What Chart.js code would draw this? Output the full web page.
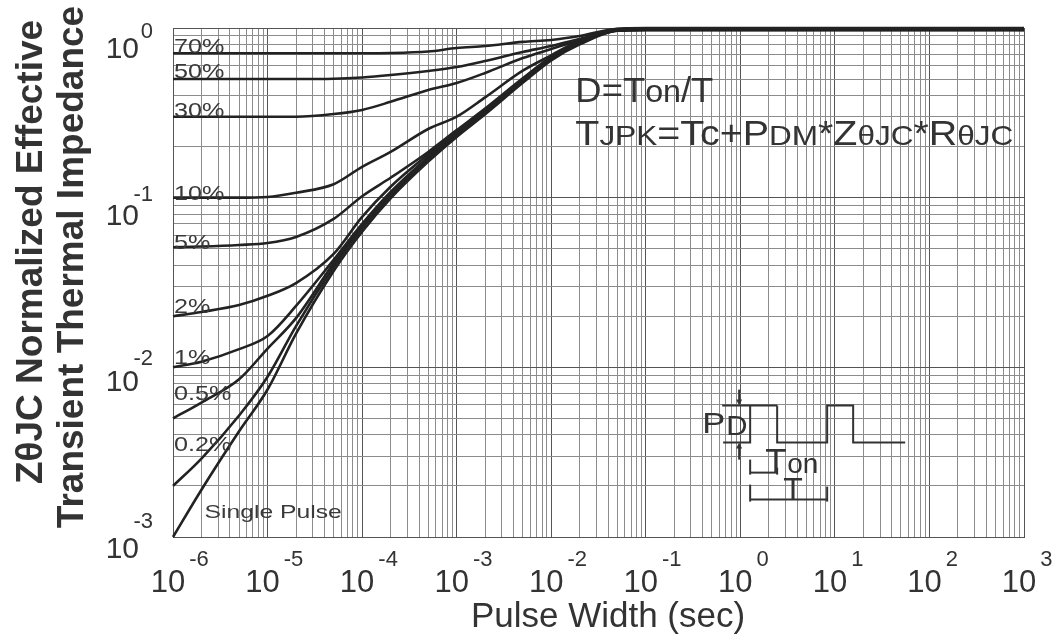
<!DOCTYPE html>
<html>
<head>
<meta charset="utf-8">
<script src="https://cdn.jsdelivr.net/npm/chart.js@4.4.1/dist/chart.umd.min.js"></script>
<style>
  body { margin: 0; background: #fff; }
  canvas { display: block; }
</style>
</head>
<body>
<canvas id="zthChart" width="1059" height="635"></canvas>
<script>
// Pulse widths (sec) shared by every curve
const pulseWidths = [1e-6, 2e-6, 5e-6, 1e-5, 2e-5, 5e-5, 1e-4, 2e-4, 5e-4, 1e-3, 2e-3, 5e-3, 1e-2, 2e-2, 5e-2, 1e-1, 1e3];

// Normalized ZthJC, one array per duty cycle
const duty70 = [0.71, 0.71, 0.71, 0.71, 0.71, 0.71, 0.71, 0.712, 0.727, 0.762, 0.783, 0.828, 0.85, 0.897, 0.99, 0.998, 0.998];
const duty50 = [0.50, 0.50, 0.50, 0.50, 0.50, 0.502, 0.511, 0.528, 0.558, 0.589, 0.639, 0.722, 0.783, 0.861, 0.985, 0.995, 0.995];
const duty30 = [0.30, 0.30, 0.30, 0.30, 0.30, 0.311, 0.329, 0.367, 0.431, 0.474, 0.543, 0.665, 0.752, 0.85, 0.98, 0.992, 0.992];
const duty10 = [0.10, 0.10, 0.10, 0.101, 0.107, 0.12, 0.152, 0.186, 0.254, 0.30, 0.39, 0.56, 0.69, 0.845, 0.978, 0.99, 0.99];
const duty5 = [0.051, 0.0515, 0.0526, 0.054, 0.0587, 0.075, 0.102, 0.131, 0.186, 0.25, 0.335, 0.505, 0.675, 0.83, 0.975, 0.987, 0.987];
const duty2 = [0.020, 0.0212, 0.0233, 0.0264, 0.0314, 0.0466, 0.077, 0.116, 0.18, 0.245, 0.33, 0.50, 0.67, 0.825, 0.972, 0.984, 0.984];
const duty1 = [0.010, 0.0108, 0.0128, 0.0153, 0.023, 0.043, 0.07, 0.108, 0.174, 0.24, 0.325, 0.495, 0.665, 0.82, 0.97, 0.981, 0.981];
const duty05 = [0.005, 0.0062, 0.0085, 0.0129, 0.0195, 0.041, 0.068, 0.105, 0.171, 0.237, 0.32, 0.49, 0.66, 0.815, 0.968, 0.978, 0.978];
const duty02 = [0.002, 0.0029, 0.0052, 0.0088, 0.0175, 0.039, 0.066, 0.103, 0.168, 0.234, 0.318, 0.485, 0.655, 0.81, 0.966, 0.975, 0.975];
const singlePulse = [0.001, 0.0019, 0.0042, 0.0074, 0.0158, 0.037, 0.063, 0.099, 0.163, 0.228, 0.31, 0.475, 0.645, 0.80, 0.963, 0.972, 0.972];

const seriesNames = ['70%', '50%', '30%', '10%', '5%', '2%', '1%', '0.5%', '0.2%', 'Single Pulse'];
const seriesValues = [duty70, duty50, duty30, duty10, duty5, duty2, duty1, duty05, duty02, singlePulse];

// Axis decades (exponents) and minor multipliers
const xDecades = [-6, -5, -4, -3, -2, -1, 0, 1, 2, 3];
const yDecades = [-3, -2, -1, 0];
const minorSteps = [1, 2, 3, 4, 5, 6, 7, 8, 9];

// Where each curve label sits (data units: pulse width, Zth at text baseline)
const labelX = [1e-6, 1e-6, 1e-6, 1e-6, 1e-6, 1e-6, 1e-6, 1e-6, 1e-6, 2.1e-6];
const labelY = [0.712, 0.507, 0.299, 0.097, 0.050, 0.021, 0.0104, 0.0064, 0.0032, 0.00129];

const FONT = '"Liberation Sans", Arial, sans-serif';
const INK = '#333';

function logTicks(decades) {
  const ticks = [];
  decades.forEach((e, i) => {
    const steps = i === decades.length - 1 ? [1] : minorSteps;
    steps.forEach(m => ticks.push({ value: m * Math.pow(10, e), major: m === 1 }));
  });
  return ticks;
}

function stretchText(ctx, text, x, y, size, sx) {
  ctx.save();
  ctx.font = size + 'px ' + FONT;
  ctx.textAlign = 'left';
  ctx.textBaseline = 'alphabetic';
  ctx.translate(x, y);
  ctx.scale(sx, 1);
  ctx.fillText(text, 0, 0);
  ctx.restore();
}

function richText(ctx, parts, x, y, targetWidth) {
  ctx.save();
  ctx.textAlign = 'left';
  let w = 0;
  parts.forEach(([t, s]) => { ctx.font = s + 'px ' + FONT; w += ctx.measureText(t).width; });
  ctx.translate(x, y);
  ctx.scale(targetWidth / w, 1);
  let cx = 0;
  parts.forEach(([t, s]) => {
    ctx.font = s + 'px ' + FONT;
    ctx.fillText(t, cx, 0);
    cx += ctx.measureText(t).width;
  });
  ctx.restore();
}

function line(ctx, pts) {
  ctx.beginPath();
  ctx.moveTo(pts[0][0], pts[0][1]);
  for (let i = 1; i < pts.length; i++) ctx.lineTo(pts[i][0], pts[i][1]);
  ctx.stroke();
}

function arrowHead(ctx, x, y, dir) {
  ctx.beginPath();
  ctx.moveTo(x, y);
  ctx.lineTo(x - 3, y - 6 * dir);
  ctx.lineTo(x + 3, y - 6 * dir);
  ctx.closePath();
  ctx.fill();
}

const overlay = {
  id: 'overlay',
  afterDraw(chart) {
    const { ctx, chartArea, scales: { x, y } } = chart;
    ctx.save();
    ctx.fillStyle = INK;
    ctx.strokeStyle = INK;

    // x tick labels 10^n
    xDecades.forEach(e => {
      const px = x.getPixelForValue(Math.pow(10, e)) - 5;
      ctx.font = '31px ' + FONT;
      ctx.textAlign = 'center';
      ctx.fillText('10', px, 592);
      const half = ctx.measureText('10').width / 2;
      ctx.font = '22px ' + FONT;
      ctx.textAlign = 'left';
      ctx.fillText(String(e), px + half + 4, 566);
    });

    // y tick labels 10^n (the printed labels drift slightly toward the middle)
    const h = chartArea.bottom - chartArea.top;
    yDecades.forEach(e => {
      const py = y.getPixelForValue(Math.pow(10, e));
      const f = (py - chartArea.top) / h;
      ctx.font = '30px ' + FONT;
      ctx.textAlign = 'right';
      ctx.fillText('10', 139, py + 30 - 9 * f);
      ctx.font = '22px ' + FONT;
      ctx.fillText(String(e), 153, py + 10 - 19 * f);
    });

    // axis titles
    ctx.font = '35px ' + FONT;
    ctx.textAlign = 'center';
    ctx.fillText('Pulse Width (sec)', 608, 627);

    ctx.font = 'bold 37px ' + FONT;
    ctx.save();
    ctx.translate(42, 252);
    ctx.rotate(-Math.PI / 2);
    ctx.fillText('Z\u03b8JC Normalized Effective', 0, 0);
    ctx.restore();
    ctx.save();
    ctx.translate(83, 267);
    ctx.rotate(-Math.PI / 2);
    ctx.fillText('Transient Thermal Impedance', 0, 0);
    ctx.restore();

    // curve labels
    ctx.fillStyle = '#3a3a3a';
    seriesNames.forEach((name, i) => {
      const lx = x.getPixelForValue(labelX[i]) + 1;
      const ly = y.getPixelForValue(labelY[i]);
      if (name === 'Single Pulse') stretchText(ctx, name, lx, ly, 19, 1.3);
      else stretchText(ctx, name, lx, ly, 21, 1.2);
    });

    // formula note
    ctx.fillStyle = INK;
    const nx = x.getPixelForValue(0.018);
    const ny = y.getPixelForValue(0.366);
    richText(ctx, [['D=T', 35], ['on', 31], ['/T', 35]], nx, ny, 138);
    richText(ctx, [['T', 35], ['JPK', 28], ['=Tc+P', 35], ['DM', 28], ['*Z', 35], ['\u03b8JC', 28], ['*R', 35], ['\u03b8JC', 28]], nx, ny + 43, 438);

    // pulse train sketch
    const ax = x.getPixelForValue(1.27);
    const ay = y.getPixelForValue(0.0036);
    const P = (dx, dy) => [ax + dx, ay + dy];
    ctx.lineWidth = 2;
    line(ctx, [P(-28, -37), P(27, -37)]);
    line(ctx, [P(-27, 0), P(0, 0), P(0, -37)]);
    line(ctx, [P(27, -37), P(27, 0), P(77, 0), P(77, -37), P(103, -37), P(103, 0), P(155, 0)]);
    line(ctx, [P(-11, -53), P(-11, -40)]);
    arrowHead(ctx, ax - 11, ay - 37, 1);
    line(ctx, [P(-11, 17), P(-11, 3)]);
    arrowHead(ctx, ax - 11, ay, -1);
    ctx.textAlign = 'left';
    stretchText(ctx, 'P', ax - 48, ay - 10, 30, 1.15);
    stretchText(ctx, 'D', ax - 24, ay - 8, 28, 1.05);
    ctx.font = '35px ' + FONT;
    ctx.fillText('T', ax + 15, ay + 30);
    ctx.font = '28px ' + FONT;
    ctx.fillText('on', ax + 37, ay + 30);
    line(ctx, [P(0, 17), P(0, 32)]);
    line(ctx, [P(0, 30), P(27, 30)]);
    line(ctx, [P(27, 25), P(27, 32)]);
    ctx.font = '32px ' + FONT;
    ctx.fillText('T', ax + 33, ay + 57);
    line(ctx, [P(0, 42), P(0, 59)]);
    line(ctx, [P(0, 57), P(77, 57)]);
    line(ctx, [P(77, 44), P(77, 59)]);

    ctx.restore();
  }
};

const gridColor = c => (c.tick && c.tick.major ? '#555' : '#8c8c8c');

new Chart(document.getElementById('zthChart'), {
  type: 'line',
  data: {
    datasets: seriesValues.map((vals, i) => ({
      label: seriesNames[i],
      data: pulseWidths.map((t, j) => ({ x: t, y: vals[j] })),
      borderColor: '#222',
      borderWidth: 2.6,
      pointRadius: 0,
      fill: false,
      cubicInterpolationMode: 'monotone',
      clip: 6
    }))
  },
  options: {
    responsive: false,
    animation: false,
    layout: { padding: { left: 173, right: 35, top: 28, bottom: 98 } },
    plugins: { legend: { display: false }, tooltip: { enabled: false } },
    scales: {
      x: {
        type: 'logarithmic',
        min: 1e-6,
        max: 1e3,
        afterBuildTicks: axis => { axis.ticks = logTicks(xDecades); },
        ticks: { display: false },
        grid: { color: gridColor, lineWidth: 1, drawTicks: false },
        border: { display: true, color: '#555', width: 1 }
      },
      y: {
        type: 'logarithmic',
        min: 1e-3,
        max: 1,
        afterBuildTicks: axis => { axis.ticks = logTicks(yDecades); },
        ticks: { display: false },
        grid: { color: gridColor, lineWidth: 1, drawTicks: false },
        border: { display: true, color: '#555', width: 1 }
      }
    }
  },
  plugins: [overlay]
});
</script>
</body>
</html>
